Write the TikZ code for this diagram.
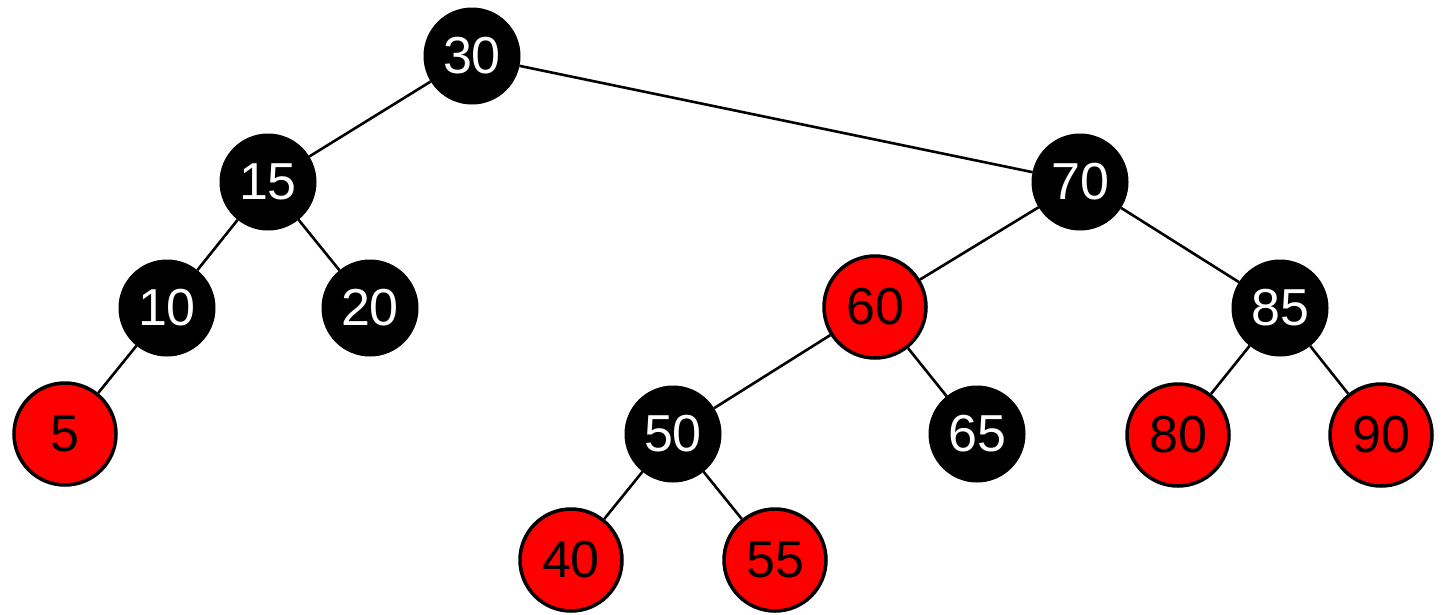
\documentclass[tikz,border=0pt]{standalone}
\usepackage{fontspec}
\setmainfont{Liberation Sans}
\definecolor{rbred}{RGB}{255,0,0}
\tikzset{
  blk/.style={circle,fill=black,draw=black,line width=1pt,minimum size=96pt,inner sep=0pt,text=white,font=\fontsize{52}{52}\selectfont},
  rdn/.style={circle,fill=rbred,draw=black,line width=3.5pt,minimum size=102pt,inner sep=0pt,text=black,font=\fontsize{52}{52}\selectfont},
  edge/.style={draw=black,line width=2.6pt}
}
\begin{document}
\begin{tikzpicture}[x=1pt,y=-1pt]
\useasboundingbox (0,0) rectangle (1443,614);
\node[blk] (n30) at (472,56) {30};
\node[blk] (n15) at (268,182) {15};
\node[blk] (n70) at (1080,182) {70};
\node[blk] (n10) at (167,308) {10};
\node[blk] (n20) at (370,308) {20};
\node[rdn] (n60) at (875,307) {60};
\node[blk] (n85) at (1280,308) {85};
\node[rdn] (n5) at (65,434) {5};
\node[blk] (n50) at (673,434) {50};
\node[blk] (n65) at (977,434) {65};
\node[rdn] (n80) at (1178,435) {80};
\node[rdn] (n90) at (1381,435) {90};
\node[rdn] (n40) at (571,560) {40};
\node[rdn] (n55) at (775,560) {55};
\draw[edge] (n30) -- (n15);
\draw[edge] (n30) -- (n70);
\draw[edge] (n15) -- (n10);
\draw[edge] (n15) -- (n20);
\draw[edge] (n10) -- (n5);
\draw[edge] (n70) -- (n60);
\draw[edge] (n70) -- (n85);
\draw[edge] (n60) -- (n50);
\draw[edge] (n60) -- (n65);
\draw[edge] (n85) -- (n80);
\draw[edge] (n85) -- (n90);
\draw[edge] (n50) -- (n40);
\draw[edge] (n50) -- (n55);
\end{tikzpicture}
\end{document}
